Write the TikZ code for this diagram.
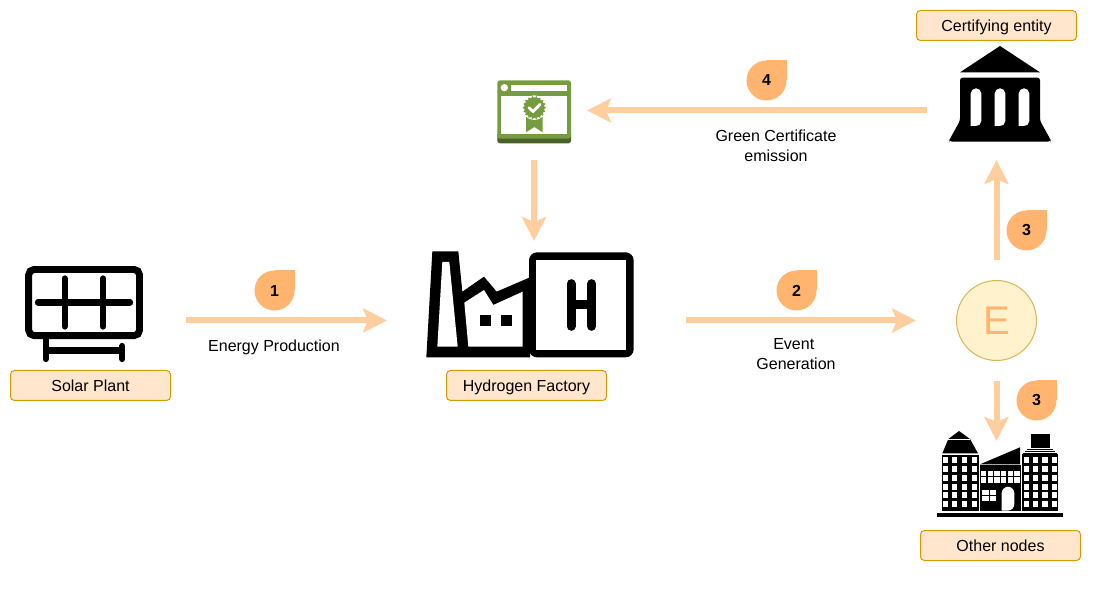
\documentclass[tikz,border=0pt]{standalone}
\usepackage{fontspec}
\setmainfont{Liberation Sans}
\usepackage{tikz}
\usetikzlibrary{arrows.meta}
\usepackage{xcolor}
\definecolor{flowpeach}{HTML}{FFCE9F}
\definecolor{badgeorange}{HTML}{FFB570}
\definecolor{tagfill}{HTML}{FFE6CC}
\definecolor{tagline}{HTML}{D79B00}
\definecolor{eventfill}{HTML}{FFF2CC}
\definecolor{eventline}{HTML}{D6B656}
\definecolor{certgreen}{HTML}{759C3E}
\definecolor{certdark}{HTML}{4B612C}
% numbered drop: name, position, number
\newcommand{\stepdrop}[3]{
  \fill[badgeorange] (#2) rectangle ++(20,-20);
  \node[drop] (#1) at (#2) {#3};
}

\begin{document}
\begin{tikzpicture}[x=0.75pt, y=-0.75pt, font=\fontsize{12}{15}\selectfont,
  tag/.style={rectangle, draw=tagline, fill=tagfill, line width=0.75pt, rounded corners=3pt,
    minimum width=120pt, minimum height=22.5pt, inner sep=0pt,
    text height=9.7pt, text depth=1.4pt},
  drop/.style={circle, fill=badgeorange, minimum size=30pt, inner sep=0pt, font=\fontsize{12}{14}\selectfont\bfseries},
  note/.style={align=center, inner sep=0pt},
  iconbox/.style={rectangle, inner sep=0pt, outer sep=0pt},
  flow/.style={draw=flowpeach, line width=4.5pt, -{Stealth[length=18pt, width=18pt, inset=3.75pt]}},
  bar/.style={line width=4.7pt, line cap=round}]
\useasboundingbox (0,0) rectangle (1117,591);
% ---------------- icon frames (arrows end on these) ----------------
\node[iconbox, minimum width=153pt, minimum height=90pt] (solar) at (84,320.5) {};
\node[iconbox, minimum width=224.25pt, minimum height=119.25pt] (factory) at (536.5,320.5) {};
\node[iconbox, minimum width=79.5pt, minimum height=74.25pt] (cert) at (534,110.5) {};
\node[iconbox, minimum width=104.25pt, minimum height=74.25pt] (bank) at (996.5,110.5) {};
\node[iconbox, minimum width=97.5pt, minimum height=58.5pt] (others) at (996.5,480) {};
\node[circle, draw=eventline, fill=eventfill, line width=0.75pt, minimum size=60pt, inner sep=0pt,
      text=badgeorange, font=\fontsize{30}{30}\selectfont] (event) at (996.5,320.5) {E};
% ---------------- solar plant ----------------
\draw[line width=5.2pt, rounded corners=4pt] (28.7,269.5) rectangle (139.5,335.6);
\draw[bar] (38,302.5) -- (130,302.5);
\draw[bar] (64.7,278.5) -- (64.7,326.5);
\draw[bar] (103,278.5) -- (103,326.5);
\draw[bar] (45.7,339) -- (45.7,359);
\draw[bar] (122.3,346) -- (122.3,359);
\draw[line width=5pt] (45.7,350.5) -- (122.3,350.5);
% ---------------- hydrogen factory ----------------
\begin{scope}[shift={(410,60)}, scale=1/3]
  \fill (49,892) -- (67,574) -- (145,574) -- (157,695) -- (222,650) -- (260,695)
    -- (360,652) -- (360,892) -- cycle;
  \fill[white] (82,860) -- (97,606) -- (118,606) -- (143,860) -- cycle;                 % chimney
  \fill[white] (163,728) -- (222,690) -- (250,735) -- (338,695) -- (338,860) -- (175,860) -- cycle;
  \fill (210,765) rectangle (243,797);
  \fill (274,765) rectangle (306,797);
  \fill[rounded corners=6pt] (357,577) rectangle (671,892);
  \fill[white] (379,600) rectangle (648,869);
  \draw[line width=6.75pt, line cap=round] (483,671) -- (483,799);
  \draw[line width=6.75pt, line cap=round] (545,671) -- (545,799);
  \draw[line width=6.5pt] (483,733) -- (545,733);
\end{scope}
% ---------------- certificate ----------------
\begin{scope}[shift={(490,75)}, scale=1/3]
  \fill[certdark, rounded corners=2pt] (22,170) rectangle (243,205);
  \fill[certgreen, rounded corners=2pt] (22,16) rectangle (243,191);
  \fill[white] (33,62) rectangle (232,177);
  \fill[white] (62,30) rectangle (232,47);
  \fill[white] (43,38) circle (11);
  \fill[certgreen] (108,125) -- (108,172) -- (133,156) -- (158,172) -- (158,125) -- cycle;
  \fill[white] (133,98) circle (37);
  \fill[certgreen] (133,98) circle (31);
  \foreach \ang in {0,20,...,340}
    \fill[certgreen] (133,98) ++(\ang:32) circle (3);
  \draw[white, line width=2.2pt, line cap=round, line join=round] (117,98) -- (129,110) -- (150,88);
\end{scope}
% ---------------- certifying entity building ----------------
\begin{scope}[shift={(900,0)}, scale=1/3]
  \fill (300,138) -- (420,217) -- (180,217) -- cycle;
  \fill[rounded corners=2pt] (148,425) -- (148,420) -- (180,362) -- (180,233) -- (420,233) -- (420,362) -- (452,420) -- (452,425) -- cycle;
  \foreach \xa in {212,284,356}
    \fill[white, rounded corners=3.9pt] (\xa,378) -- (\xa,265) -- (\xa+32,265) -- (\xa+32,378) [sharp corners] -- cycle;
\end{scope}
% ---------------- other nodes buildings ----------------
\begin{scope}[shift={(920,370)}, scale=1/3]
  \fill (52,428) rectangle (428,440);                                                    % base
  % left tower
  \fill (67,250) -- (85,207) -- (117,183) -- (150,207) -- (174,250) -- cycle;
  \draw[white, line width=0.5pt] (85,207) -- (150,207);
  \fill (65,255) rectangle (176,422);
  \foreach \ya in {261,288,315,342,367,393} {
    \foreach \xa in {70,97,125,155}
      \fill[white] (\xa,\ya) rectangle ++(15,18);
  }
  % middle block
  \fill (180,283) -- (300,232) -- (300,283) -- cycle;
  \fill (180,286) rectangle (302,296);
  \fill (180,298) rectangle (302,342);
  \foreach \ya in {302,322} {
    \foreach \xa in {183,203,223,243,263,283}
      \fill[white] (\xa,\ya) rectangle ++(16,16);
  }
  \fill (180,342) rectangle (302,422);
  \fill[white] (186,360) rectangle (228,394);
  \draw (207,360) -- (207,394);
  \draw (186,377) -- (228,377);
  \fill[white, rounded corners=5pt] (245,422) -- (245,350) -- (283,350) -- (283,422) [sharp corners] -- cycle;
  % right tower
  \fill (332,193) rectangle (390,235);
  \fill (322,238) rectangle (400,241);
  \fill (316,243) rectangle (406,246);
  \fill (310,248) rectangle (412,251);
  \fill (306,253) rectangle (415,422);
  \foreach \ya in {261,288,315,342,367,393} {
    \foreach \xa in {311,338,367,396}
      \fill[white] (\xa,\ya) rectangle ++(16,18);
  }
\end{scope}
% ---------------- tags ----------------
\node[tag] (solartag) at (90.5,385.5) {Solar Plant};
\node[tag] (factorytag) at (526.5,385.5) {Hydrogen Factory};
\node[tag] (banktag) at (996.5,25.5) {Certifying entity};
\node[tag] (otherstag) at (1000.5,545.5) {Other nodes};
% ---------------- flows ----------------
\draw[flow] (solar) -- (factory);
\draw[flow, shorten >=30pt] (factory.east) -- (event.west);
\draw[flow, shorten <=15pt] (event.north) -- (bank.south);
\draw[flow, shorten <=15pt] (event.south) -- (others.north);
\draw[flow] (bank.west) -- (cert.east);
\draw[flow] (cert.south) -- (cert.south |- factory.north);
% ---------------- notes and numbers ----------------
\node[note] (energynote) at (274,347) {Energy Production};
\node[note] (eventnote) at (796,354) {Event\hspace*{3.4pt}\\Generation};
\node[note] (certnote) at (776,145.5) {Green Certificate\\emission};
\stepdrop{dropone}{274.5,290.5}{1}
\stepdrop{droptwo}{796.5,290.5}{2}
\stepdrop{dropfour}{766.5,80.5}{4}
\stepdrop{dropup}{1026.5,230.5}{3}
\stepdrop{dropdown}{1036.5,400.5}{3}
\end{tikzpicture}
\end{document}
